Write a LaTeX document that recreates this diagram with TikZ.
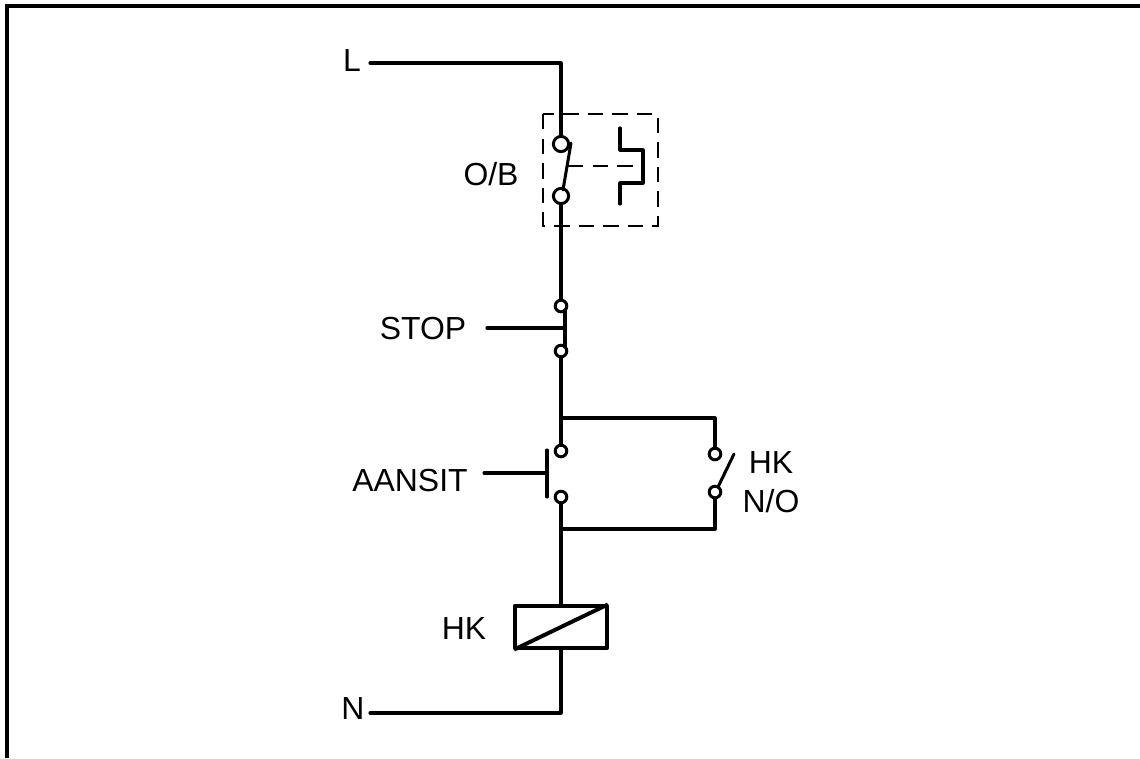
\documentclass[tikz,border=0pt]{standalone}
\usepackage{fontspec}
\setmainfont{Liberation Sans}
\tikzset{
  wire/.style={line width=2.15pt,line cap=round,line join=round},
  lbl/.style={inner sep=0pt,font=\fontsize{22.7}{27}\selectfont},
  terminal/.style={circle,draw,line width=2.1pt,inner sep=0pt,minimum size=.29cm},
  bigterminal/.style={terminal,minimum size=.38cm},
  blade/.style={line width=2.15pt,line cap=round},
  guard/.style={line width=1.5pt,dash pattern=on 11pt off 6.5pt}
}
\begin{document}
\begin{tikzpicture}[x=.025cm,y=-.025cm]
\useasboundingbox (0,0) rectangle (1140,758);
\draw [line width=2.9pt] (7,758) -- (7,6) -- (1140,6);
% labels
\node [lbl] (L) at (352,61) {L};
\node [lbl] (N) at (353,709) {N};
\node [lbl] (OB) at (491,174) {O/B};
\node [lbl] (STOP) at (423,329) {STOP};
\node [lbl] (AANSIT) at (410,481) {AANSIT};
\node [lbl] (HK1) at (771,463) {HK};
\node [lbl] (NO) at (771,501) {N/O};
\node [lbl] (HK2) at (464,629) {HK};
% corners and joints
\coordinate (l0) at (370,63);
\coordinate (n0) at (370,713);
\coordinate (c1) at (561,63);
\coordinate (c2) at (561,713);
\coordinate (j1) at (561,418);
\coordinate (j2) at (561,529);
\coordinate (c3) at (715,418);
\coordinate (c4) at (715,529);
% terminals
\node [bigterminal] (ob1) at (561,144) {};
\node [bigterminal] (ob2) at (561,196) {};
\node [terminal] (st1) at (561,306) {};
\node [terminal] (st2) at (561,351) {};
\node [terminal] (as1) at (561,451) {};
\node [terminal] (as2) at (561,497) {};
\node [terminal] (hk1) at (715,454) {};
\node [terminal] (hk2) at (715,492) {};
\node [draw,line width=3.1pt,line join=round,inner sep=0pt,minimum width=2.3cm,minimum height=1.05cm] (coil) at (561,627) {};
% wires
\draw [wire] (l0) -- (c1) -- (ob1);
\draw [wire] (ob2) -- (st1);
\draw [wire] (st2) -- (j1) -- (as1);
\draw [wire] (j1) -- (c3) -- (hk1);
\draw [wire] (hk2) -- (c4) -- (j2);
\draw [wire] (as2) -- (j2) -- (coil);
\draw [wire] (coil) -- (c2) -- (n0);
\draw [line width=2.8pt,shorten <=1pt,shorten >=1pt] (coil.south west) -- (coil.north east);
% O/B contact and trip
\coordinate (b1) at (571,143);
\coordinate (b2) at (563,190);
\coordinate (d1) at (568,166);
\coordinate (d2) at (643,166);
\draw [blade] (b1) -- (b2);
\draw [guard] (d1) -- (d2);
\draw [wire] (620,128) -- (620,150) -- (643,150) -- (643,183) -- (620,183) -- (620,204);
\draw [guard] (543,114) rectangle (658,226);
% push buttons
\coordinate (s1) at (565,310);
\coordinate (s2) at (565,347);
\coordinate (s3) at (565,328);
\coordinate (s4) at (487,328);
\draw [blade] (s1) -- (s2);
\draw [blade] (s4) -- (s3);
\coordinate (a1) at (547,450);
\coordinate (a2) at (547,497);
\coordinate (a3) at (547,473);
\coordinate (a4) at (484,473);
\draw [blade] (a1) -- (a2);
\draw [blade] (a4) -- (a3);
% HK contact
\coordinate (h1) at (734,454);
\coordinate (h2) at (718,487);
\draw [blade] (h1) -- (h2);
\end{tikzpicture}
\end{document}
